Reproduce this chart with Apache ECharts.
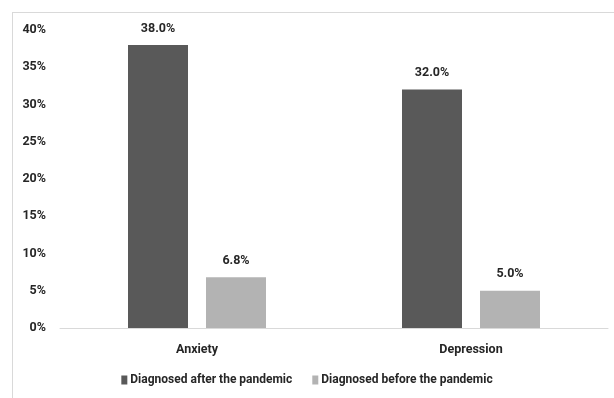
<!DOCTYPE html>
<html><head><meta charset="utf-8">
<script src="https://cdn.jsdelivr.net/npm/echarts@6/dist/echarts.min.js"></script>
<style>html,body{margin:0;padding:0;background:#fff}#c{width:614px;height:398px}</style>
</head><body><div id="c"></div>
<script>
var categories = ['Anxiety', 'Depression'];
var afterValues = [38.0, 32.0];
var beforeValues = [6.8, 5.0];
var seriesNames = ['Diagnosed after the pandemic', 'Diagnosed before the pandemic'];
var yTicks = [0, 5, 10, 15, 20, 25, 30, 35, 40];

var FONT = 'Roboto, sans-serif';
var chart = echarts.init(document.getElementById('c'), null, {renderer: 'canvas'});
var label = {show: true, position: 'top', distance: 10, formatter: function(p){return p.value.toFixed(1) + '%';},
  color: '#262626', fontFamily: FONT, fontWeight: 'bold', fontSize: 12.5};
chart.setOption({
  animation: false,
  textStyle: {fontFamily: FONT},
  graphic: [
    {type: 'line', shape: {x1: 12, y1: 12.5, x2: 614, y2: 12.5}, style: {stroke: '#d9d9d9', lineWidth: 1}},
    {type: 'line', shape: {x1: 12.5, y1: 12, x2: 12.5, y2: 398}, style: {stroke: '#d9d9d9', lineWidth: 1}}
  ],
  grid: {left: 60, right: 6, top: 30, bottom: 70, containLabel: false},
  legend: {
    data: seriesNames, bottom: 7, left: 'center', itemWidth: 6, itemHeight: 9, itemGap: 20,
    icon: 'rect',
    textStyle: {fontFamily: FONT, fontWeight: 'bold', fontSize: 12, color: '#262626', padding: [0,0,0,-2]}
  },
  xAxis: {
    type: 'category', data: categories,
    axisLine: {show: true, lineStyle: {color: '#d9d9d9'}},
    axisTick: {show: false},
    axisLabel: {color: '#262626', fontFamily: FONT, fontWeight: 'bold', fontSize: 12.5, margin: 15}
  },
  yAxis: {
    type: 'value', min: yTicks[0], max: yTicks[yTicks.length - 1], interval: 5,
    splitLine: {show: false}, axisLine: {show: false}, axisTick: {show: false},
    axisLabel: {formatter: '{value}%', color: '#262626', fontFamily: FONT, fontWeight: 'bold', fontSize: 12.5, margin: 14}
  },
  series: [
    {name: seriesNames[0], type: 'bar', data: afterValues, barWidth: 60, barGap: '30%',
     itemStyle: {color: '#595959'}, label: label},
    {name: seriesNames[1], type: 'bar', data: beforeValues, barWidth: 60,
     itemStyle: {color: '#b3b3b3'}, label: label}
  ]
});
</script></body></html>
